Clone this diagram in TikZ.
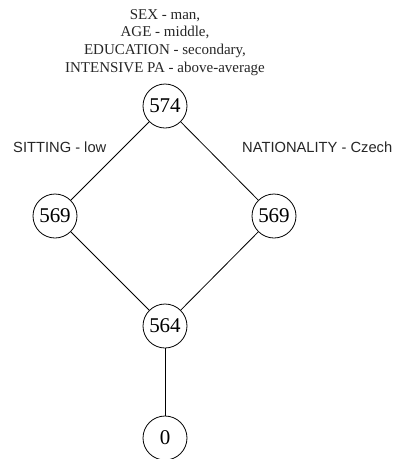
\documentclass[tikz,border=0pt]{standalone}
\usepackage{fontspec}
\setmainfont{Liberation Serif}
\newfontfamily\labelfont{Liberation Sans}
\begin{document}
\begin{tikzpicture}[x=1pt,y=-1pt,
  state/.style={draw, circle, minimum size=44pt, inner sep=0pt, line width=0.8pt, font=\fontsize{21}{23}\selectfont},
  edge/.style={line width=0.8pt},
  lbl/.style={font=\labelfont\fontsize{14.7}{17}\selectfont, inner sep=0pt, text=black!85},
  toptext/.style={font=\fontsize{15}{17.6}\selectfont, align=center, inner sep=0pt, text=black!85}]
\useasboundingbox (0,0) rectangle (399,459);
\node[state] (n574) at (165,106) {574};
\node[state] (n569l) at (55,216) {569};
\node[state] (n569r) at (274,216) {569};
\node[state] (n564) at (165,326) {564};
\node[state] (n0) at (165,438) {0};
\draw[edge] (n574) -- (n569l);
\draw[edge] (n574) -- (n569r);
\draw[edge] (n569l) -- (n564);
\draw[edge] (n569r) -- (n564);
\draw[edge] (n564) -- (n0);
\node[toptext, anchor=base] (desc) at (165,72) {SEX - man,\\AGE - middle,\\EDUCATION - secondary,\\INTENSIVE PA - above-average};
\node[lbl, anchor=base west] (sit) at (13,152) {SITTING - low};
\node[lbl, anchor=base west] (nat) at (242,152) {NATIONALITY - Czech};
\end{tikzpicture}
\end{document}
